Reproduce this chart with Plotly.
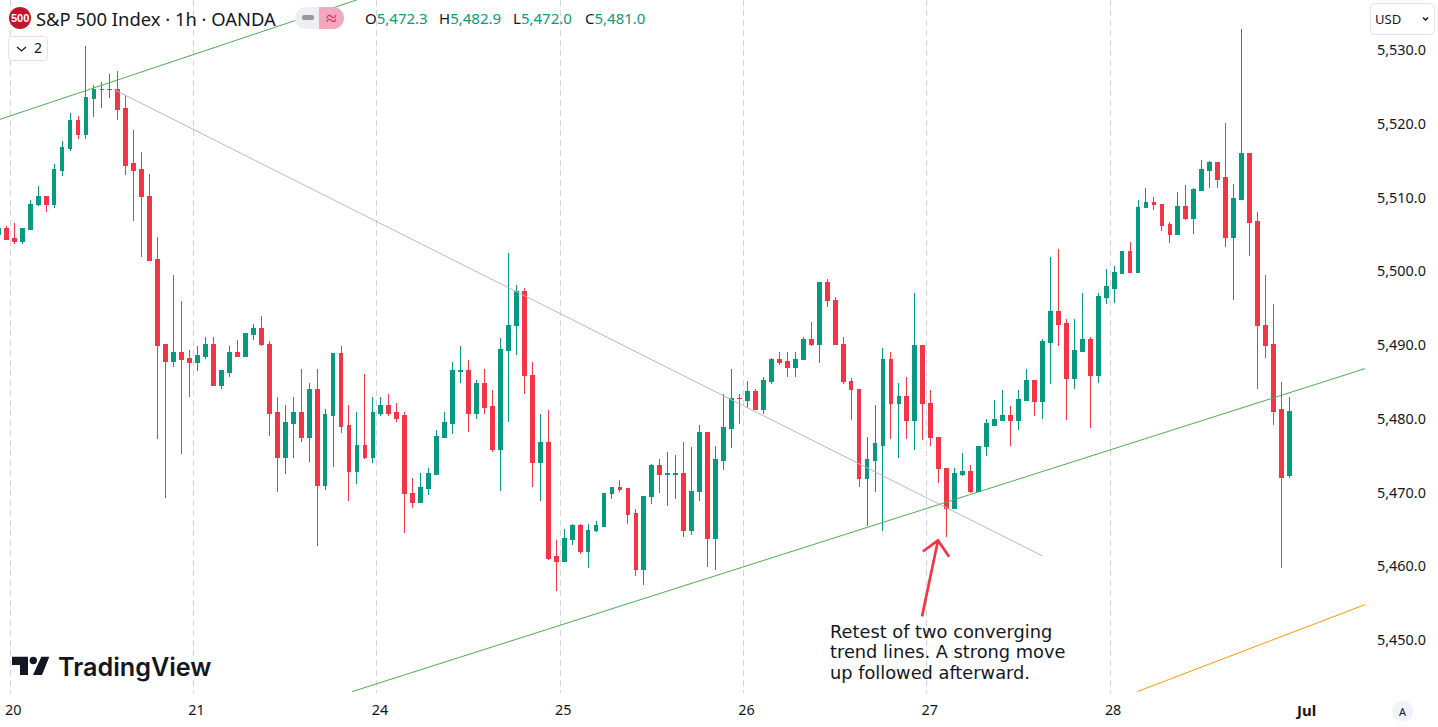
import plotly.graph_objects as go

# hourly OHLC
opens = [
    5505.0, 5505.8, 5504.4, 5504.0, 5505.6, 5509.0, 5510.1, 5509.0, 5513.6, 5516.6,
    5520.5, 5518.6, 5523.4, 5524.6, 5524.6, 5524.7, 5522.1, 5514.6, 5513.8, 5510.2,
    5501.6, 5490.0, 5487.8, 5489.0, 5488.2, 5487.6, 5488.5, 5490.1, 5484.5, 5486.3,
    5489.0, 5488.5, 5491.4, 5492.3, 5490.1, 5480.9, 5474.8, 5479.4, 5480.9, 5477.5,
    5484.0, 5470.9, 5480.4, 5488.9, 5479.1, 5472.9, 5476.4, 5474.8, 5480.7, 5481.8,
    5480.9, 5480.4, 5469.9, 5468.7, 5470.5, 5472.5, 5477.5, 5479.4, 5486.4, 5486.5,
    5480.7, 5484.8, 5481.7, 5475.8, 5489.3, 5492.6, 5497.2, 5485.9, 5474.0, 5476.8,
    5461.3, 5460.7, 5463.6, 5465.5, 5462.0, 5464.8, 5465.4, 5469.8, 5470.7, 5470.5,
    5467.1, 5459.6, 5469.4, 5473.7, 5472.4, 5472.5, 5472.6, 5464.9, 5470.1, 5478.2,
    5463.8, 5474.4, 5478.7, 5482.8, 5482.5, 5483.7, 5481.3, 5485.1, 5488.1, 5487.7,
    5487.0, 5488.0, 5490.7, 5490.0, 5498.5, 5496.1, 5490.1, 5485.1, 5484.0, 5471.9,
    5474.4, 5476.4, 5488.1, 5482.1, 5483.0, 5479.8, 5489.9, 5482.1, 5477.5, 5473.3,
    5467.8, 5472.5, 5472.9, 5470.2, 5476.2, 5479.1, 5479.8, 5480.4, 5479.8, 5482.5,
    5485.2, 5482.4, 5490.4, 5494.5, 5492.9, 5485.5, 5489.1, 5490.7, 5485.9, 5496.5,
    5497.7, 5499.7, 5502.7, 5499.8, 5508.6, 5509.3, 5509.1, 5506.3, 5505.0, 5508.8,
    5507.1, 5511.0, 5513.6, 5514.7, 5512.7, 5504.6, 5509.7, 5516.0, 5506.7, 5492.7,
    5490.0, 5481.2, 5472.3,
]
highs = [
    5505.8, 5506.2, 5506.6, 5505.9, 5509.6, 5511.6, 5510.1, 5514.6, 5517.6, 5521.4,
    5521.0, 5530.6, 5525.3, 5525.7, 5526.8, 5527.2, 5523.9, 5519.2, 5516.2, 5513.2,
    5504.6, 5490.0, 5499.5, 5496.0, 5489.3, 5489.9, 5491.1, 5491.1, 5486.5, 5489.8,
    5490.7, 5491.5, 5492.8, 5493.9, 5490.5, 5482.9, 5481.8, 5482.9, 5486.8, 5484.8,
    5486.7, 5481.3, 5488.9, 5489.9, 5481.8, 5480.9, 5486.0, 5483.0, 5482.9, 5483.4,
    5482.2, 5480.9, 5471.9, 5472.6, 5473.3, 5478.5, 5480.9, 5487.7, 5489.9, 5488.0,
    5485.2, 5486.7, 5483.9, 5490.9, 5502.5, 5498.1, 5497.7, 5487.7, 5480.6, 5481.2,
    5463.6, 5465.1, 5465.7, 5465.7, 5465.7, 5466.2, 5469.9, 5470.7, 5471.7, 5470.5,
    5467.8, 5469.5, 5473.9, 5474.5, 5475.5, 5475.1, 5476.8, 5476.2, 5479.1, 5478.2,
    5476.3, 5483.3, 5486.8, 5483.4, 5485.1, 5484.0, 5485.6, 5488.2, 5489.0, 5489.0,
    5489.0, 5491.1, 5493.1, 5498.5, 5499.0, 5496.5, 5491.1, 5485.5, 5484.0, 5477.5,
    5481.8, 5489.6, 5489.0, 5484.8, 5485.6, 5497.0, 5489.9, 5483.9, 5477.5, 5473.3,
    5473.3, 5475.4, 5473.7, 5476.3, 5479.9, 5482.5, 5483.9, 5481.7, 5483.9, 5486.7,
    5485.2, 5490.8, 5501.9, 5503.0, 5493.5, 5493.5, 5497.0, 5491.1, 5497.0, 5500.3,
    5500.7, 5502.7, 5504.0, 5509.7, 5511.3, 5510.1, 5509.1, 5506.7, 5510.8, 5511.7,
    5511.3, 5515.1, 5515.0, 5514.7, 5520.1, 5511.8, 5532.9, 5516.0, 5508.0, 5499.5,
    5495.6, 5485.0, 5482.9,
]
lows = [
    5505.0, 5504.3, 5503.7, 5503.7, 5505.6, 5508.8, 5508.0, 5508.6, 5512.9, 5516.3,
    5517.9, 5517.9, 5520.9, 5522.1, 5523.5, 5520.5, 5513.1, 5506.8, 5501.9, 5501.5,
    5477.2, 5469.3, 5487.0, 5475.2, 5482.9, 5486.5, 5488.1, 5484.4, 5484.0, 5485.6,
    5488.5, 5488.5, 5490.7, 5489.9, 5477.6, 5470.1, 5472.5, 5474.7, 5476.8, 5474.1,
    5462.7, 5470.4, 5473.5, 5478.0, 5468.9, 5471.1, 5474.5, 5474.0, 5480.4, 5480.4,
    5479.6, 5464.5, 5467.9, 5468.7, 5469.6, 5472.5, 5477.5, 5477.9, 5484.8, 5478.2,
    5479.9, 5480.6, 5475.5, 5470.2, 5479.6, 5488.6, 5483.3, 5470.7, 5468.9, 5460.8,
    5456.6, 5460.7, 5462.9, 5461.7, 5459.8, 5464.7, 5465.4, 5469.1, 5470.1, 5465.7,
    5458.7, 5457.5, 5468.5, 5469.9, 5468.1, 5469.1, 5464.0, 5464.3, 5468.9, 5459.9,
    5459.5, 5473.1, 5476.0, 5479.3, 5481.4, 5481.3, 5480.6, 5484.7, 5487.3, 5485.6,
    5485.6, 5488.0, 5489.8, 5487.6, 5495.2, 5490.0, 5484.7, 5479.8, 5470.7, 5465.5,
    5470.1, 5464.8, 5477.2, 5474.7, 5477.2, 5475.8, 5477.1, 5476.3, 5471.3, 5464.0,
    5467.8, 5472.3, 5469.9, 5470.2, 5475.0, 5479.1, 5479.8, 5476.3, 5478.5, 5482.5,
    5480.4, 5480.0, 5484.7, 5489.8, 5479.8, 5484.1, 5489.1, 5478.8, 5484.8, 5495.6,
    5495.7, 5499.7, 5499.8, 5499.8, 5508.6, 5508.3, 5505.4, 5503.8, 5505.0, 5506.9,
    5505.0, 5510.9, 5511.3, 5511.3, 5503.3, 5496.1, 5509.7, 5502.0, 5484.1, 5488.2,
    5479.1, 5459.8, 5472.0,
]
closes = [
    5505.8, 5504.3, 5504.0, 5505.8, 5509.1, 5510.1, 5509.0, 5513.8, 5516.8, 5520.5,
    5518.6, 5523.5, 5524.7, 5524.7, 5524.7, 5522.0, 5514.4, 5513.6, 5510.1, 5501.5,
    5489.9, 5487.8, 5489.0, 5488.1, 5487.6, 5488.6, 5490.1, 5484.5, 5486.5, 5489.0,
    5488.5, 5491.5, 5492.3, 5490.0, 5480.7, 5474.8, 5479.5, 5480.9, 5477.5, 5484.0,
    5470.9, 5480.6, 5488.9, 5479.0, 5472.9, 5476.4, 5474.8, 5480.9, 5481.8, 5480.7,
    5480.1, 5469.8, 5468.7, 5470.7, 5472.6, 5477.6, 5479.5, 5486.5, 5486.5, 5480.7,
    5484.8, 5481.5, 5475.8, 5489.4, 5492.7, 5497.2, 5485.8, 5474.0, 5476.8, 5461.1,
    5460.7, 5463.7, 5465.5, 5462.0, 5464.9, 5465.5, 5469.9, 5470.7, 5470.4, 5467.0,
    5459.6, 5469.5, 5473.7, 5472.4, 5472.6, 5472.6, 5464.9, 5470.2, 5478.2, 5463.8,
    5474.5, 5478.8, 5482.8, 5482.7, 5483.7, 5481.3, 5485.2, 5488.1, 5487.6, 5487.0,
    5488.1, 5490.7, 5490.0, 5498.5, 5496.0, 5490.0, 5485.0, 5483.9, 5471.9, 5474.5,
    5476.6, 5488.1, 5482.1, 5483.0, 5479.8, 5489.9, 5482.0, 5477.4, 5473.2, 5467.8,
    5472.6, 5472.9, 5470.2, 5476.3, 5479.3, 5479.9, 5480.4, 5479.8, 5482.6, 5485.2,
    5482.4, 5490.5, 5494.5, 5492.8, 5485.5, 5489.3, 5490.7, 5485.9, 5496.6, 5497.9,
    5499.8, 5502.7, 5499.8, 5508.6, 5509.3, 5509.0, 5506.2, 5505.0, 5508.8, 5507.1,
    5511.1, 5513.8, 5514.7, 5512.5, 5504.6, 5509.8, 5516.0, 5506.6, 5492.6, 5489.9,
    5481.0, 5472.1, 5481.0,
]
bars = list(range(len(opens)))

day_ticks = [1.5, 24.5, 47.5, 70.5, 93.5, 116.5, 139.5]
day_labels = ["20", "21", "24", "25", "26", "27", "28"]
price_ticks = [5450, 5460, 5470, 5480, 5490, 5500, 5510, 5520, 5530]

# trend lines drawn on the chart, [bar, bar] / [price, price]
upper_x, upper_y = [0.21, 45.0], [5520.6, 5536.8]
lower_x, lower_y = [44.4, 171.5], [5443.0, 5486.8]
orange_x, orange_y = [142.9, 171.5], [5443.0, 5454.8]
gray_x, gray_y = [14.4, 131.0], [5524.7, 5461.4]
arrow_x = [115.9, 117.9, 116.0, 117.9, 119.3]
arrow_y = [5453.2, 5463.5, 5462.0, 5463.5, 5461.3]

note_lines = ["Retest of two converging", "trend lines. A strong move", "up followed afterward."]

GREEN = "#089981"
RED = "#F23645"
INK = "#131722"
FONT = "Noto Sans"
W, H = 1365, 693  # plot area in pixels


def px(x):
    return x / W


def py(y):
    return 1 - y / H


def rounded_path(x0, y0, x1, y1, r):
    return (
        f"M {px(x0 + r)} {py(y0)} L {px(x1 - r)} {py(y0)} Q {px(x1)} {py(y0)} {px(x1)} {py(y0 + r)} "
        f"L {px(x1)} {py(y1 - r)} Q {px(x1)} {py(y1)} {px(x1 - r)} {py(y1)} "
        f"L {px(x0 + r)} {py(y1)} Q {px(x0)} {py(y1)} {px(x0)} {py(y1 - r)} "
        f"L {px(x0)} {py(y0 + r)} Q {px(x0)} {py(y0)} {px(x0 + r)} {py(y0)} Z"
    )


def poly_path(points):
    cmds = [f"{'M' if i == 0 else 'L'} {px(x)} {py(y)}" for i, (x, y) in enumerate(points)]
    return " ".join(cmds)


def circle(x, y, r, color):
    return dict(type="circle", xref="paper", yref="paper", x0=px(x - r), x1=px(x + r),
                y0=py(y + r), y1=py(y - r), fillcolor=color, line_width=0, layer="above")


def rect(x0, y0, x1, y1, color):
    return dict(type="rect", xref="paper", yref="paper", x0=px(x0), x1=px(x1),
                y0=py(y1), y1=py(y0), fillcolor=color, line_width=0, layer="above")


def path(d, fill=None, line=None, width=0):
    return dict(type="path", xref="paper", yref="paper", path=d, fillcolor=fill,
                line=dict(color=line, width=width), layer="above")


def label(x, y, text, size=14, color=INK, anchor="left", family=FONT, weight=None):
    return dict(xref="paper", yref="paper", x=px(x), y=py(y), text=text, showarrow=False,
                xanchor=anchor, yanchor="middle", align="left",
                font=dict(family=family, size=size, color=color, weight=weight))


fig = go.Figure()

fig.add_trace(go.Scatter(x=upper_x, y=upper_y, mode="lines", line=dict(color="#4CAF50", width=1)))
fig.add_trace(go.Scatter(x=lower_x, y=lower_y, mode="lines", line=dict(color="#4CAF50", width=1)))
fig.add_trace(go.Scatter(x=orange_x, y=orange_y, mode="lines", line=dict(color="#FF9800", width=1)))
fig.add_trace(go.Scatter(x=gray_x, y=gray_y, mode="lines", line=dict(color="#B8B8C0", width=1)))

fig.add_trace(go.Candlestick(
    x=bars, open=opens, high=highs, low=lows, close=closes,
    increasing=dict(line=dict(color=GREEN, width=1), fillcolor=GREEN),
    decreasing=dict(line=dict(color=RED, width=1), fillcolor=RED),
    whiskerwidth=0,
))

fig.add_trace(go.Scatter(x=arrow_x, y=arrow_y, mode="lines", line=dict(color=RED, width=2.7)))

shapes = [
    # legend pill
    circle(306, 18, 11, "#EEEFF1"), rect(306, 7, 319, 29, "#EEEFF1"),
    circle(333, 18, 11, "#F4A6BE"), rect(319, 7, 333, 29, "#F4A6BE"),
    path(rounded_path(302, 15, 314, 20, 2), fill="#9598A1"),
    # collapsed indicators button
    path(rounded_path(8.5, 36.5, 47.5, 60.5, 4), fill="white", line="#E0E3EB", width=1),
    path(poly_path([(17, 47), (21.5, 51), (26, 47)]), line=INK, width=1.3),
    # currency box
    path(rounded_path(1370.5, 3.5, 1434.5, 34.5, 5), fill="white", line="#E0E3EB", width=1),
    path(poly_path([(1423, 17.5), (1425.5, 20), (1428, 17.5)]), line=INK, width=1.5),
    # symbol badge and auto-scale button
    circle(20, 18, 11, "#C4122F"),
    circle(1403, 711, 10.5, "#F0F3FA"),
    # TradingView mark
    path(poly_path([(12, 656.7), (28, 656.7), (28, 675), (20, 675), (20, 665), (12, 665)]) + " Z", fill=INK),
    circle(33.3, 660.5, 3.7, INK),
    path(poly_path([(41.3, 656.7), (49.3, 656.7), (42, 675), (33, 675)]) + " Z", fill=INK),
]

annotations = [
    label(20, 18, "500", size=11, color="white", anchor="center", family="Liberation Sans", weight=700),
    label(34, 18.5, "S&amp;P 500 Index · 1h · OANDA", size=18.4),
    label(331.5, 17.5, "≈", size=20, color="#E91E63", anchor="center"),
    label(363, 18.5, f"O<span style='color:{GREEN}'>5,472.3</span>", size=15),
    label(437, 18.5, f"H<span style='color:{GREEN}'>5,482.9</span>", size=15),
    label(510.5, 18.5, f"L<span style='color:{GREEN}'>5,472.0</span>", size=15),
    label(583, 18.5, f"C<span style='color:{GREEN}'>5,481.0</span>", size=15),
    label(37.5, 48, "2", size=14, anchor="center"),
    label(1373, 19, "USD", size=13),
    label(1403, 711, "A", size=11, anchor="center"),
    label(1305, 710, "Jul", size=15, anchor="center", weight=700),
    label(56, 667, "TradingView", size=25.2, family="Inter", weight=600),
    label(828, 631, note_lines[0], size=17.8, family="DejaVu Sans"),
    label(828, 651.5, note_lines[1], size=17.8, family="DejaVu Sans"),
    label(828, 672, note_lines[2], size=17.8, family="DejaVu Sans"),
]

fig.update_layout(
    width=1438, height=727,
    margin=dict(l=0, r=73, t=0, b=34, autoexpand=False),
    paper_bgcolor="white", plot_bgcolor="white",
    showlegend=False, boxgap=0.32,
    font=dict(family=FONT, size=14.4, color=INK),
    shapes=shapes, annotations=annotations,
)
fig.update_xaxes(
    type="linear", range=[0.213, 171.48], rangeslider_visible=False,
    tickmode="array", tickvals=day_ticks, ticktext=day_labels, ticklabelshift=3,
    showgrid=True, gridcolor="#D1D4DC", griddash="6px,4px", gridwidth=1,
    zeroline=False, showline=False, ticks="", ticklabelstandoff=7,
)
fig.update_yaxes(
    range=[5442.81, 5536.78], side="right", showgrid=False, zeroline=False, showline=False,
    tickmode="array", tickvals=price_ticks, tickformat=",.1f", ticks="", ticklabelstandoff=11,
)

# candles look blurry on fractional pixels, snap them like the original
post = (
    "document.body.style.margin='0';document.body.style.overflow='hidden';"
    "document.querySelectorAll('.boxlayer path').forEach(p=>p.style.shapeRendering='crispEdges');"
)
fig.write_html("out.html", config=dict(displayModeBar=False), post_script=post)
